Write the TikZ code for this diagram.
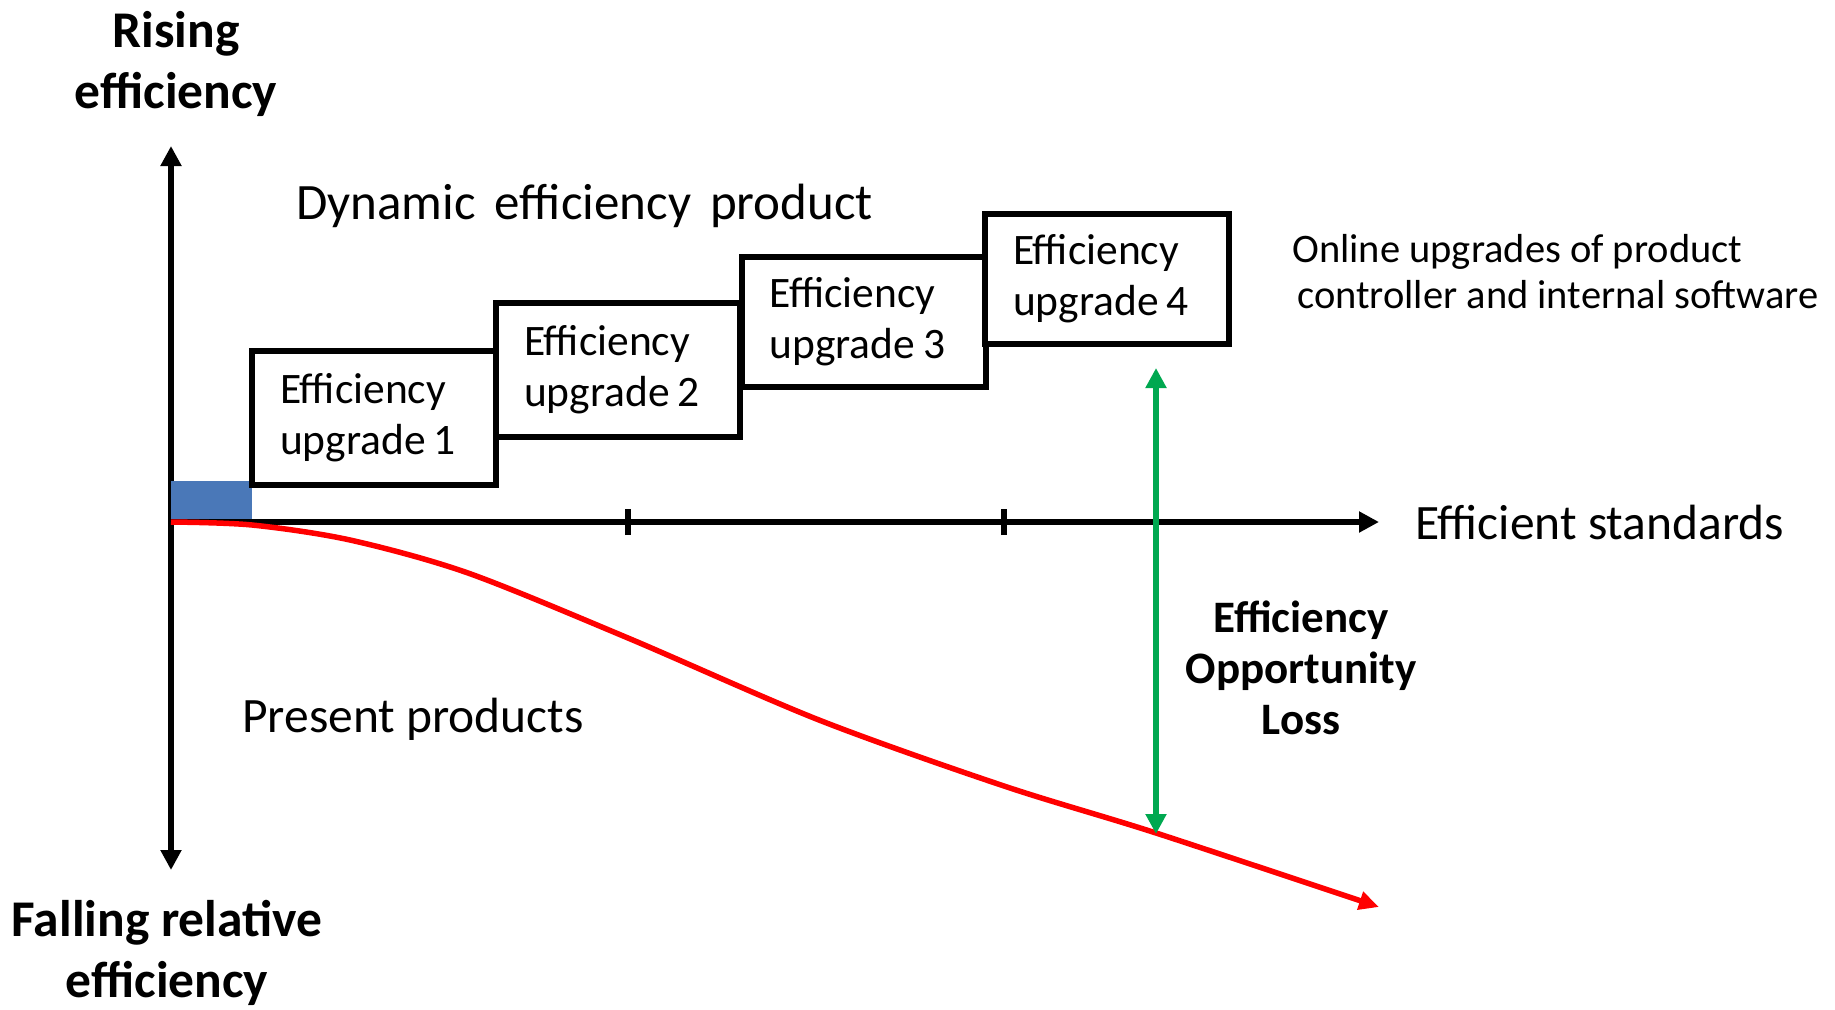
\documentclass[tikz,border=0pt]{standalone}
\usepackage{fontspec}
\setmainfont{Carlito}
\usetikzlibrary{arrows.meta}
\definecolor{barblue}{HTML}{4A78B8}
\definecolor{lossgreen}{HTML}{00A850}
\definecolor{curvered}{HTML}{FF0000}
\tikzset{
  axis/.style={line width=5.5pt,-{Triangle[length=20pt,width=20pt]}},
  upbox/.style={draw,line width=6pt,fill=white,minimum width=244pt,minimum height=134pt,
    text width=188pt,align=left,inner sep=0pt,font=\fontsize{43.5}{51}\selectfont},
  bigbold/.style={align=center,font=\fontsize{51.5}{61}\selectfont\bfseries},
  label/.style={font=\fontsize{49.5}{58}\selectfont,inner sep=0pt}
}
\begin{document}
\begin{tikzpicture}[x=1pt,y=-1pt]
\useasboundingbox (0,0) rectangle (1835,1009);
% axes
\coordinate (O) at (171,522);
\coordinate (ytop) at (171,146);
\coordinate (ybot) at (171,870);
\coordinate (xend) at (1379,522);
\draw[axis] (O) -- (ytop);
\draw[axis] (O) -- (ybot);
\fill[barblue] (171,481) rectangle (252,522);
\draw[axis] (O) -- (xend);
\coordinate (t1) at (628,522);
\coordinate (t2) at (1004,522);
\draw[line width=6pt] ([yshift=-13pt]t1) -- ([yshift=13pt]t1);
\draw[line width=6pt] ([yshift=-13pt]t2) -- ([yshift=13pt]t2);
% boxes
\node[upbox] (b1) at (374,418) {Efficiency\\upgrade\hspace{0.18em}1};
\node[upbox] (b2) at (618,370) {Efficiency\\upgrade\hspace{0.18em}2};
\node[upbox,minimum height=130pt] (b3) at (863.5,322) {Efficiency\\upgrade\hspace{0.18em}3};
\node[upbox,minimum height=130pt] (b4) at (1107,279) {Efficiency\\upgrade\hspace{0.18em}4};
% red curve
\draw[curvered,line width=5.5pt,-{Triangle[length=20pt,width=18pt]}]
  plot[smooth,tension=0.5] coordinates {(171,522) (252,525) (350,540) (468,573) (628,638) (819,720) (1004,786) (1156,833) (1379,907)};
% green arrow
\coordinate (g1) at (1156,368);
\coordinate (g2) at (1156,834);
\draw[lossgreen,line width=5.5pt,{Triangle[length=20pt,width=20pt]}-{Triangle[length=20pt,width=20pt]}] (g1) -- (g2);
% texts
\node[bigbold] (rise) at (176,64) {Rising\\efficiency};
\node[bigbold] (fall) at (167,953) {Falling relative\\efficiency};
\node[font=\fontsize{51}{58}\selectfont,inner sep=0pt,anchor=west] (dyn) at (296,206) {Dynamic\hspace{19pt}efficiency\hspace{19pt}product};
\node[label,anchor=west] (std) at (1415,522) {Efficient standards};
\node[label,anchor=west] (pres) at (242,719) {Present products};
\node[align=left,font=\fontsize{40.5}{46}\selectfont,inner sep=0pt,anchor=west] (online) at (1292,272) {Online upgrades of product\\\hspace*{5pt}controller and internal software};
\node[align=center,font=\fontsize{45}{51}\selectfont\bfseries,inner sep=0pt] (loss) at (1301,668) {Efficiency\\Opportunity\\Loss};
\end{tikzpicture}
\end{document}
